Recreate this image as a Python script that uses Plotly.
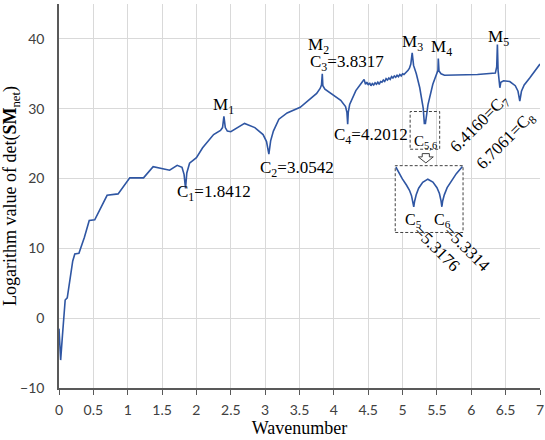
import plotly.graph_objects as go

# ---- main curve (wavenumber vs log det) ----
wavenumber = [0.00, 0.024, 0.05, 0.07, 0.09, 0.12, 0.16, 0.20, 0.23, 0.29, 0.37, 0.44, 0.52, 0.61, 0.70,
              0.86, 0.95, 1.03, 1.23, 1.37, 1.61, 1.72, 1.79, 1.82, 1.8412, 1.86, 1.90, 2.00, 2.09, 2.25,
              2.35, 2.38, 2.40, 2.42, 2.45, 2.50, 2.70, 2.85, 2.97, 3.02, 3.0542, 3.08, 3.12, 3.20, 3.32,
              3.51, 3.63, 3.75, 3.80, 3.82, 3.8317, 3.84, 3.87, 3.99, 4.10, 4.17, 4.19, 4.2012, 4.21, 4.23,
              4.32, 4.41, 4.44, 4.46, 4.48, 4.50, 4.52, 4.54, 4.56, 4.58, 4.60, 4.62, 4.64, 4.66, 4.68,
              4.70, 4.72, 4.74, 4.76, 4.78, 4.80, 4.82, 4.84, 4.86, 4.88, 4.90, 4.92, 4.94, 4.96, 4.98,
              5.00, 5.02, 5.04, 5.06, 5.08, 5.10, 5.12, 5.14, 5.16, 5.20, 5.25, 5.30, 5.3176, 5.324, 5.3314,
              5.37, 5.44, 5.50, 5.515, 5.52, 5.53, 5.56, 5.61, 6.09, 6.35, 6.37, 6.38, 6.39, 6.40, 6.416,
              6.43, 6.47, 6.56, 6.64, 6.68, 6.7061, 6.73, 6.77, 6.85, 6.92, 7.00]
log_det = [-1.5, -6.0, -2.5, 0.5, 2.6, 2.9, 5.9, 8.2, 9.2, 9.3, 11.6, 14.0, 14.1, 15.9, 17.6,
           17.8, 19.0, 20.1, 20.1, 21.7, 21.2, 21.9, 21.6, 20.6, 18.6, 20.8, 22.2, 23.0, 24.4, 26.3,
           26.9, 27.3, 28.9, 27.3, 26.8, 26.7, 27.9, 27.3, 26.3, 25.3, 23.5, 25.4, 26.8, 28.5, 29.4,
           30.2, 31.2, 32.2, 32.9, 33.4, 35.0, 33.3, 32.8, 31.9, 31.2, 30.3, 29.5, 27.8, 29.5, 30.6,
           32.6, 33.8, 34.2, 33.5, 33.8, 33.4, 33.7, 33.3, 33.6, 33.4, 33.7, 33.5, 33.8, 33.5, 33.9,
           33.8, 34.1, 33.9, 34.3, 34.1, 34.4, 34.2, 34.6, 34.4, 34.7, 34.5, 34.8, 34.6, 34.9, 34.7,
           35.0, 34.9, 35.1, 35.2, 35.5, 35.8, 36.4, 38.0, 36.2, 35.0, 33.0, 30.1, 27.8, 28.4, 27.8,
           30.6, 33.5, 34.9, 35.5, 37.2, 35.4, 35.0, 34.8, 34.9, 35.1, 36.0, 39.2, 35.5, 34.6, 33.0,
           33.8, 34.0, 33.9, 33.3, 32.5, 31.1, 32.5, 33.4, 34.4, 35.4, 36.4]

# ---- inset: zoom of the C5 / C6 double dip ----
inset_x = [5.3088, 5.3100, 5.3120, 5.3140, 5.3155, 5.3165, 5.3172, 5.3176, 5.3180, 5.3188, 5.3200,
           5.3220, 5.3245, 5.3270, 5.3290, 5.3302, 5.3310, 5.3314, 5.3318, 5.3326, 5.3340, 5.3360,
           5.3385, 5.3415]
inset_y = [29.50, 29.32, 29.05, 28.82, 28.62, 28.42, 28.20, 28.00, 28.20, 28.45, 28.70,
           28.92, 29.04, 28.93, 28.72, 28.50, 28.22, 28.00, 28.22, 28.45, 28.72, 28.98,
           29.25, 29.52]

x_ticks = [0, 0.5, 1, 1.5, 2, 2.5, 3, 3.5, 4, 4.5, 5, 5.5, 6, 6.5, 7]
x_tick_text = ["0", "0.5", "1", "1.5", "2", "2.5", "3", "3.5", "4", "4.5", "5", "5.5", "6", "6.5", "7"]
y_ticks = [-10, 0, 10, 20, 30, 40]

LINE = "#2F56A3"
SERIF = "Liberation Serif, Times New Roman, serif"
SANS = "Lato, Liberation Sans, sans-serif"
AXC = "#595959"

fig = go.Figure()
fig.add_trace(go.Scatter(x=wavenumber, y=log_det, mode="lines",
                         line=dict(color=LINE, width=1.6), showlegend=False,
                         xaxis="x", yaxis="y"))
fig.add_trace(go.Scatter(x=inset_x, y=inset_y, mode="lines",
                         line=dict(color=LINE, width=1.6), showlegend=False,
                         xaxis="x2", yaxis="y2"))

fig.update_layout(
    width=545, height=440,
    margin=dict(l=54, r=1, t=4, b=52),
    paper_bgcolor="white", plot_bgcolor="white",
    xaxis=dict(range=[0, 7], tickvals=x_ticks, ticktext=x_tick_text,
               showgrid=True, gridcolor="#d9d9d9", gridwidth=1,
               showline=True, linecolor=AXC, linewidth=1.5,
               ticks="outside", ticklen=5, tickcolor=AXC, tickwidth=1,
               ticklabelstandoff=3, ticklabeloverflow="allow",
               tickfont=dict(family=SANS, size=14, color="#404040"),
               zeroline=False,
               title=dict(text="Wavenumber", font=dict(family=SERIF, size=18, color="black"),
                          standoff=1)),
    yaxis=dict(range=[-10, 45], tickvals=y_ticks,
               showgrid=True, gridcolor="#d9d9d9", gridwidth=1,
               showline=True, linecolor=AXC, linewidth=1.5,
               ticks="", ticklabelstandoff=10,
               tickfont=dict(family=SANS, size=14, color="#404040"),
               zeroline=False,
               title=dict(text="Logarithm value of det(<b>SM</b><sub>net</sub>)",
                          font=dict(family=SERIF, size=18, color="black"), standoff=6)),
    xaxis2=dict(domain=[0.699, 0.840], range=[5.3085, 5.3418], anchor="y2",
                visible=False, showgrid=False, zeroline=False),
    yaxis2=dict(domain=[0.405, 0.579], range=[27.03, 29.55], anchor="x2",
                visible=False, showgrid=False, zeroline=False),
)

# dashed box around the inset
fig.add_shape(type="rect", xref="x2 domain", yref="y2 domain", x0=0, x1=1, y0=0, y1=1,
              line=dict(color="#404040", width=1, dash="3px,2px"), fillcolor="rgba(0,0,0,0)")
# small dashed box around C5,6 on main curve
fig.add_shape(type="rect", xref="x", yref="y", x0=5.11, x1=5.54, y0=24.2, y1=29.6,
              line=dict(color="#404040", width=1, dash="3px,2px"), fillcolor="rgba(0,0,0,0)")
# hollow down arrow
fig.add_shape(type="path", xref="x", yref="y",
              path="M 5.286,23.57 L 5.39,23.57 L 5.39,23.1 L 5.447,23.1 L 5.339,22.24 L 5.229,23.1 L 5.286,23.1 Z",
              line=dict(color="#404040", width=1), fillcolor="white")

def lab(x, y, text, angle=0, size=17):
    fig.add_annotation(x=x, y=y, xref="x", yref="y", text=text, showarrow=False,
                       textangle=angle, font=dict(family=SERIF, size=size, color="black"))

lab(2.40, 30.4, "M<sub>1</sub>")
lab(2.25, 17.9, "C<sub>1</sub>=1.8412")
lab(3.46, 21.3, "C<sub>2</sub>=3.0542")
lab(3.78, 39.0, "M<sub>2</sub>")
lab(4.19, 36.5, "C<sub>3</sub>=3.8317")
lab(4.54, 26.1, "C<sub>4</sub>=4.2012")
lab(5.14, 39.4, "M<sub>3</sub>")
lab(5.56, 38.7, "M<sub>4</sub>")
lab(6.40, 40.1, "M<sub>5</sub>")
lab(5.33, 25.2, "C<sub>5,6</sub>", size=15)
lab(6.13, 27.8, "6.4160=C<sub>7</sub>", angle=-45)
lab(6.51, 25.4, "6.7061=C<sub>8</sub>", angle=-45)
lab(5.157, 14.0, "C<sub>5</sub>", size=16)
lab(5.586, 14.0, "C<sub>6</sub>", size=16)
lab(5.50, 10.0, "=5.3176", angle=45)
lab(5.94, 10.0, "=5.3314", angle=45)

fig.write_html("out.html", config={"displayModeBar": False},
               post_script="document.body.style.margin='0px';document.body.style.overflow='hidden';")
